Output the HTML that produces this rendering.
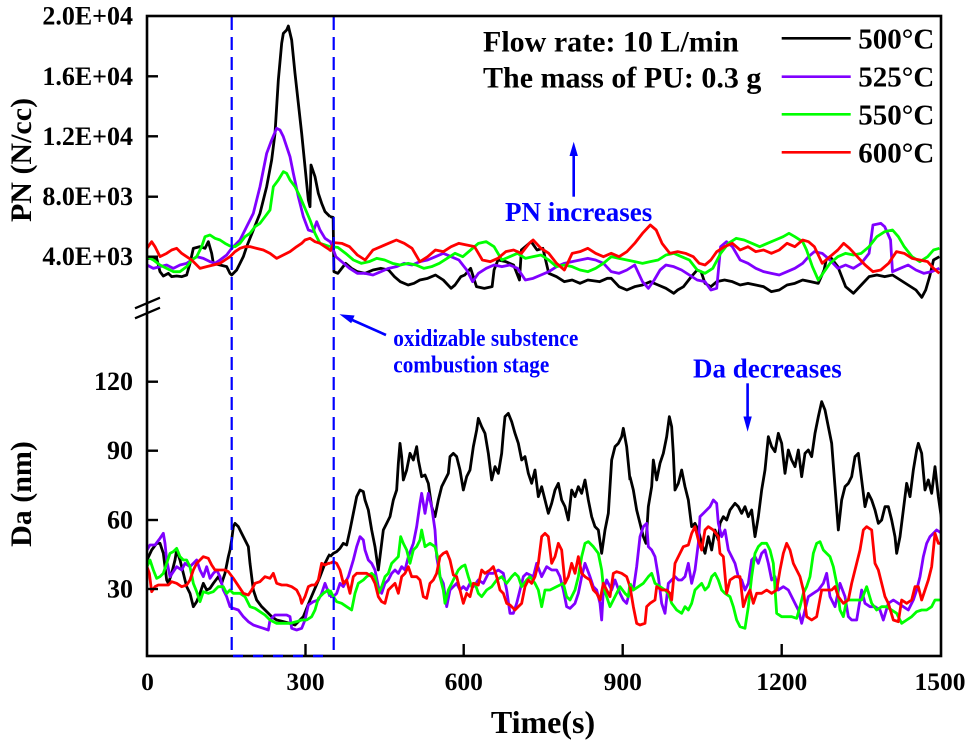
<!DOCTYPE html>
<html>
<head>
<meta charset="utf-8">
<style>
html,body{margin:0;padding:0;background:#fff;}
svg{display:block;}
.d polyline{fill:none;stroke-width:2.8;vector-effect:non-scaling-stroke;stroke-linejoin:round;}
.k{stroke:#000;} .p{stroke:#8000ff;} .g{stroke:#00ff00;} .r{stroke:#ff0000;}
text{font-family:"Liberation Serif","Times New Roman",serif;font-weight:bold;}
</style>
</head>
<body>
<svg width="972" height="745" viewBox="0 0 972 745" xmlns="http://www.w3.org/2000/svg">
<defs>
<clipPath id="cp"><rect x="147" y="16" width="794" height="640"/></clipPath>
</defs>

<g class="d" clip-path="url(#cp)">
<!-- Region A: PN, x 147-330 -->
<g transform="scale(0.333333)">
<polyline class="k" points="441,775 470,775 480,815 490,828 505,820 515,830 530,828 545,830 560,825 570,790 580,745 600,740 615,745 625,725 635,760 640,790 660,795 680,800 690,820 695,825 710,810 720,790 730,770 740,740 760,690 780,640 800,560 815,480 825,400 835,240 845,130 850,100 860,90 865,78 875,120 885,220 895,310 905,400 915,500 925,600 930,620 933,495 945,530 955,580 965,610 975,635 990,650"/>
<polyline class="p" points="441,795 460,805 480,800 500,795 520,805 540,795 560,790 575,780 590,770 610,775 630,785 645,790 660,780 680,765 695,745 710,730 720,720 740,680 760,640 780,560 800,460 815,420 830,385 840,390 850,410 860,440 870,470 880,520 895,590 910,650 925,690 940,695 950,665 960,690 975,715 990,725"/>
<polyline class="g" points="441,770 460,780 480,795 500,805 520,815 540,815 560,800 575,780 590,770 605,740 615,710 630,705 645,715 660,720 675,730 690,738 705,740 720,730 735,710 750,700 765,680 780,670 795,650 810,630 820,560 835,540 850,515 860,520 870,540 885,560 900,590 915,625 930,660 945,700 960,730 975,735 990,740"/>
<polyline class="r" points="441,745 455,725 465,740 480,770 500,760 515,750 530,745 545,760 560,770 575,780 590,795 600,805 620,800 640,795 660,790 675,780 690,770 705,755 720,745 735,740 750,740 770,745 790,750 810,760 830,775 850,765 870,755 890,740 905,730 915,720 930,715 945,725 960,730 975,740 990,750"/>
</g>
<!-- Region B: PN, x 330-940 -->
<g transform="translate(330,210) scale(0.390625,0.333333)">
<polyline class="k" points="0,20 8,22 10,185 20,190 30,175 40,160 55,175 70,185 90,190 110,180 130,175 150,180 165,200 180,215 200,225 215,220 230,210 250,205 270,195 290,210 310,235 320,225 335,200 345,195 360,175 375,230 395,235 415,230 420,180 430,150 450,155 470,165 485,210 490,120 500,110 515,95 530,120 545,115 560,190 580,200 600,215 620,210 640,220 660,210 690,215 710,205 720,205 740,230 760,240 780,230 800,225 820,215 840,225 860,235 880,250 890,240 905,230 925,200 940,180 950,185 960,220 975,230 990,215 1010,210 1030,215 1050,225 1070,220 1090,225 1110,230 1130,245 1150,240 1170,225 1190,220 1210,210 1230,215 1250,220 1265,180 1270,150 1280,140 1300,170 1320,230 1340,250 1360,225 1380,200 1400,195 1420,200 1440,195 1460,210 1480,225 1500,240 1515,262 1525,240 1535,200 1545,150 1560,140"/>
<polyline class="p" points="0,92 15,140 30,155 50,175 70,190 90,190 110,195 130,185 150,175 170,170 190,160 210,165 230,155 250,150 270,140 290,130 310,140 330,150 350,180 365,215 380,190 400,175 420,165 440,170 460,165 480,175 500,210 520,205 540,195 560,185 580,170 600,160 620,155 640,150 660,145 680,150 700,160 720,185 740,190 760,180 780,165 800,215 815,235 830,210 845,180 860,165 880,170 900,180 920,195 940,210 960,215 975,240 990,235 1000,110 1015,95 1030,110 1050,150 1070,160 1090,175 1110,185 1130,190 1150,195 1170,185 1190,175 1210,160 1225,140 1240,125 1260,130 1280,150 1300,175 1320,165 1340,175 1360,160 1380,130 1390,45 1410,40 1420,50 1435,90 1440,185 1460,175 1480,165 1500,180 1520,190 1540,185 1560,175"/>
<polyline class="g" points="0,110 20,112 40,130 60,150 80,160 100,155 120,145 140,150 160,160 180,165 200,160 220,165 240,175 260,170 280,160 300,145 320,130 340,140 360,120 380,100 400,95 420,110 440,150 460,140 480,130 500,145 520,140 540,135 560,150 580,170 600,165 620,170 640,180 660,185 680,175 700,160 720,140 740,145 760,150 780,155 800,160 820,155 840,150 860,135 880,130 900,140 920,150 940,180 960,190 980,175 1000,130 1020,100 1040,85 1060,90 1080,100 1100,110 1120,100 1140,90 1160,80 1175,70 1190,80 1210,95 1220,120 1235,170 1250,210 1265,185 1280,160 1300,140 1320,130 1340,135 1360,130 1380,110 1400,80 1420,65 1440,60 1455,80 1470,110 1490,140 1510,155 1530,140 1545,120 1560,115"/>
<polyline class="r" points="0,125 10,98 30,100 50,110 70,135 90,150 110,120 130,110 150,100 170,90 190,100 210,115 230,155 250,140 270,120 290,125 310,110 330,100 350,105 370,110 390,150 410,155 430,145 450,125 470,120 490,130 510,100 520,90 540,115 560,130 580,160 600,180 620,130 640,125 660,115 680,130 700,140 720,130 740,140 760,125 780,100 800,70 820,45 835,60 850,100 870,130 890,125 910,130 930,140 945,160 960,165 975,150 990,125 1010,110 1030,100 1050,120 1070,110 1090,125 1110,120 1130,130 1150,120 1170,100 1190,110 1210,90 1225,95 1240,110 1260,160 1280,140 1300,120 1315,100 1330,115 1350,140 1370,165 1390,185 1410,180 1430,160 1450,125 1470,130 1490,145 1510,150 1530,155 1545,175 1560,190"/>
</g>
<!-- Region C: Da, x 147-330 -->
<g transform="translate(0,330) scale(0.333333)">
<polyline class="k" points="441,690 455,660 470,640 480,640 490,670 500,750 505,760 515,730 525,690 530,660 540,690 550,730 560,770 570,790 580,830 590,815 600,790 610,760 620,780 630,775 640,760 655,740 665,760 675,730 685,680 690,660 695,630 700,590 705,580 715,590 725,610 735,630 745,650 750,700 760,780 770,810 785,830 800,845 815,860 830,870 850,875 870,880 885,885 900,870 910,860 920,835 930,810 945,775 960,740 975,700 985,680 990,672"/>
<polyline class="p" points="441,660 450,645 465,645 480,625 490,610 495,640 500,690 510,740 520,725 530,710 545,720 555,700 570,710 580,700 590,690 600,720 610,740 620,710 630,745 640,730 650,720 660,740 670,780 680,800 690,830 700,835 715,840 730,860 745,875 760,885 775,890 790,895 805,900 810,870 825,855 840,855 860,855 870,860 875,895 890,900 905,895 915,870 925,825 940,815 955,810 965,790 975,760 990,800"/>
<polyline class="g" points="441,710 450,690 460,720 470,745 480,740 490,730 500,700 510,670 520,665 530,655 540,680 550,690 560,690 570,710 580,760 590,785 600,815 610,785 625,790 640,785 655,770 670,770 680,790 690,780 700,790 710,790 720,790 735,800 750,830 765,835 780,845 795,855 810,870 830,880 850,880 870,880 890,875 905,870 920,870 935,860 945,840 955,805 970,790 985,780 990,795"/>
<polyline class="r" points="441,710 448,730 455,785 465,770 475,765 490,765 505,765 515,755 530,760 545,770 560,765 570,750 580,720 590,700 600,690 610,680 625,685 635,705 645,720 660,720 675,720 685,725 700,745 710,760 720,775 730,790 745,795 755,780 765,760 780,755 795,740 810,745 820,730 830,760 845,765 860,765 875,770 890,780 900,800 905,820 915,800 925,770 935,765 945,765 955,750 965,700 975,705 985,700 990,700"/>
</g>
<!-- Region D: Da, x 330-630 -->
<g transform="translate(330,390) scale(0.333333)">
<polyline class="k" points="0,500 10,490 20,485 30,475 40,460 50,465 60,420 70,370 80,320 90,300 100,305 105,330 115,360 125,420 135,470 145,540 150,500 160,420 170,400 180,380 190,330 200,300 205,220 210,160 215,200 220,270 230,240 240,190 250,210 260,170 265,210 275,260 285,255 295,280 305,350 315,380 325,330 335,290 345,270 355,250 360,200 370,190 380,200 390,240 400,300 410,260 420,240 430,170 440,120 445,85 455,110 465,130 475,190 485,270 495,230 505,250 515,190 520,130 525,80 535,70 545,95 555,130 565,160 575,210 585,200 595,250 605,280 615,240 625,320 635,290 645,330 655,370 665,340 675,300 685,280 695,330 705,350 715,390 725,300 735,320 745,290 755,310 765,270 775,330 785,380 795,410 805,420 815,490 825,420 835,370 845,210 855,170 865,160 875,140 880,115 890,170 900,270"/>
<polyline class="p" points="0,620 10,620 20,610 30,580 40,590 55,560 70,510 80,470 90,440 100,450 105,480 115,510 125,520 135,540 145,590 155,610 165,580 175,570 185,550 195,540 205,550 215,530 225,540 235,500 250,460 260,410 270,340 275,310 285,370 295,310 305,350 315,420 320,500 330,560 340,580 350,650 360,600 370,590 380,580 390,600 400,590 410,600 420,580 430,590 445,570 460,580 475,550 490,550 505,540 520,550 530,600 540,670 550,670 560,640 570,600 580,560 590,550 600,555 610,560 620,520 635,560 650,530 665,540 680,540 690,560 700,600 710,650 720,655 735,640 745,610 755,560 765,520 780,560 790,590 800,600 810,640 815,690 820,600 830,570 845,600 855,570 870,610 880,630 890,640 900,600"/>
<polyline class="g" points="0,600 10,620 20,635 35,640 50,650 65,660 75,610 85,580 100,570 110,560 125,550 135,560 145,610 155,590 165,560 175,550 185,520 195,510 205,500 212,440 220,460 230,480 240,520 250,480 260,470 270,450 275,420 285,470 300,460 315,470 325,510 330,560 340,600 345,640 355,600 365,580 375,560 385,540 395,530 405,525 415,560 425,590 435,580 445,610 455,620 470,600 485,590 500,570 515,560 530,580 545,560 555,550 565,560 575,590 590,570 600,560 615,580 625,600 635,650 645,600 660,600 680,590 700,580 710,620 720,630 735,600 745,560 755,500 765,460 775,455 790,470 805,490 815,540 820,590 830,620 840,650 855,620 870,590 885,610 895,620 900,580"/>
<polyline class="r" points="0,520 10,515 20,520 30,540 40,580 50,570 60,610 70,560 80,550 95,550 110,550 125,560 135,580 145,620 155,635 165,640 175,600 185,590 195,580 205,610 215,560 225,550 235,530 245,560 260,560 270,570 280,620 290,625 300,580 310,570 320,550 330,500 340,490 350,485 360,510 370,555 380,560 390,600 400,640 410,610 420,620 430,580 445,585 455,540 465,550 480,540 490,530 500,560 510,600 520,610 530,640 540,645 555,660 565,650 575,640 585,590 595,570 605,580 615,560 625,520 635,440 645,430 655,440 665,520 675,500 685,460 695,480 705,580 715,560 725,520 735,550 745,500 755,550 765,560 780,570 790,600 800,610 810,630 820,580 830,600 840,620 850,550 860,545 875,550 890,560 900,590"/>
</g>
<!-- Region E: Da, x 630-941 -->
<g transform="translate(630,390) scale(0.333333)">
<polyline class="k" points="0,260 10,300 20,360 30,400 40,440 48,460 55,350 65,290 70,210 80,270 90,220 100,190 110,140 118,80 125,110 130,190 135,300 145,280 155,240 165,290 175,330 185,410 195,400 205,420 215,460 225,490 235,440 245,480 255,420 265,450 270,400 280,380 290,390 300,360 315,340 325,350 335,370 345,350 355,380 365,360 375,440 385,380 395,300 405,240 415,140 425,170 435,185 445,130 455,160 465,250 475,180 485,210 495,230 505,180 515,260 525,190 535,180 545,200 555,130 565,80 575,35 585,60 595,110 605,160 615,290 625,420 635,330 645,290 655,280 665,260 675,200 685,190 695,270 705,350 715,310 725,330 735,360 745,400 755,390 765,350 775,350 785,390 795,440 800,490 810,440 820,360 830,280 840,320 850,240 860,180 865,160 875,190 885,300 895,270 905,310 915,230 925,320 935,390"/>
<polyline class="p" points="0,600 10,600 20,530 30,440 40,410 50,400 55,470 65,480 75,500 85,560 95,640 105,670 115,580 125,570 135,560 145,570 155,570 165,560 175,520 185,580 195,540 205,460 210,380 220,370 230,360 240,350 250,330 260,340 265,400 275,440 285,420 295,480 305,500 315,520 325,560 335,570 345,600 355,580 365,510 375,500 385,520 395,490 405,480 415,520 425,570 435,560 445,600 460,590 475,600 490,630 505,660 515,700 525,660 535,620 550,610 565,600 580,580 590,550 600,620 615,650 630,580 645,620 655,680 665,690 680,690 695,600 705,640 720,650 735,650 750,660 760,690 775,640 790,630 805,640 820,650 835,660 850,630 860,600 870,560 880,500 890,460 900,440 910,430 920,420 935,430"/>
<polyline class="g" points="0,580 10,600 25,590 40,580 55,560 65,550 75,580 90,590 105,600 115,610 125,640 140,660 155,670 165,650 175,660 185,640 195,600 205,590 215,580 225,600 235,590 245,560 255,550 265,570 275,600 285,610 300,620 310,650 320,690 330,710 345,715 355,650 365,560 375,490 385,470 395,460 410,460 420,480 430,520 440,670 455,680 470,680 485,680 500,685 510,650 520,610 530,590 540,560 550,490 560,460 570,455 580,480 590,490 600,500 610,530 620,580 630,660 640,680 650,630 660,630 680,630 695,630 710,590 725,640 740,660 755,650 770,650 785,660 800,670 815,700 830,690 845,680 860,665 875,660 890,660 905,650 915,630 935,630"/>
<polyline class="r" points="0,590 10,650 20,700 30,705 45,700 50,650 60,640 75,630 80,590 95,600 110,600 120,610 125,630 135,520 145,500 160,470 175,465 185,430 195,410 205,450 215,480 225,420 235,410 250,420 265,440 270,490 280,500 290,610 300,570 315,560 330,560 340,650 350,620 360,600 370,640 380,610 395,610 410,600 425,610 440,600 450,540 460,490 470,460 480,480 490,520 500,540 510,560 520,600 530,680 545,690 560,680 575,600 590,600 605,600 615,590 625,620 640,640 655,630 665,580 680,520 690,480 700,420 710,410 725,420 735,520 745,540 755,580 765,620 775,640 790,690 805,695 815,630 830,640 845,630 855,590 865,590 875,630 885,600 895,570 905,530 915,430 925,460 935,460"/>
</g>
</g>

<!-- dashed blue stage lines -->
<g stroke="#0000ff" stroke-width="2.2" fill="none" stroke-dasharray="13,7">
<line x1="231.7" y1="17" x2="231.7" y2="656"/>
<line x1="333.7" y1="17" x2="333.7" y2="656"/>
</g>

<!-- frame -->
<rect x="147" y="16" width="794" height="640" fill="none" stroke="#000" stroke-width="2.6"/>
<line x1="233" y1="656" x2="333" y2="656" stroke="#0000ff" stroke-width="2.6" stroke-dasharray="10,10"/>

<!-- ticks -->
<g stroke="#000" stroke-width="2.4">
<line x1="147" y1="76.3" x2="158" y2="76.3"/>
<line x1="147" y1="136.3" x2="158" y2="136.3"/>
<line x1="147" y1="196.7" x2="158" y2="196.7"/>
<line x1="147" y1="256.7" x2="158" y2="256.7"/>
<line x1="147" y1="381.7" x2="158" y2="381.7"/>
<line x1="147" y1="450.7" x2="158" y2="450.7"/>
<line x1="147" y1="520" x2="158" y2="520"/>
<line x1="147" y1="589" x2="158" y2="589"/>
<line x1="305.5" y1="656" x2="305.5" y2="644"/>
<line x1="463.7" y1="656" x2="463.7" y2="644"/>
<line x1="622.7" y1="656" x2="622.7" y2="644"/>
<line x1="781.7" y1="656" x2="781.7" y2="644"/>
</g>

<!-- axis break -->
<g stroke="#000" stroke-width="2.2">
<line x1="135" y1="308.3" x2="160" y2="297.7"/>
<line x1="135" y1="318.3" x2="160" y2="307.7"/>
</g>

<!-- tick labels -->
<g font-size="26" text-anchor="end" fill="#000">
<text x="133" y="24.5">2.0E+04</text>
<text x="133" y="84.8">1.6E+04</text>
<text x="133" y="144.8">1.2E+04</text>
<text x="133" y="205.2">8.0E+03</text>
<text x="133" y="265.2">4.0E+03</text>
<text x="133" y="390.2">120</text>
<text x="133" y="459.2">90</text>
<text x="133" y="528.5">60</text>
<text x="133" y="597.5">30</text>
</g>
<g font-size="25.5" text-anchor="middle" fill="#000">
<text x="147.5" y="690">0</text>
<text x="305.5" y="690">300</text>
<text x="463.7" y="690">600</text>
<text x="622.7" y="690">900</text>
<text x="781.7" y="690">1200</text>
<text x="940" y="690">1500</text>
</g>

<!-- axis titles -->
<text x="543" y="733" font-size="32" text-anchor="middle">Time(s)</text>
<text transform="translate(31,160) rotate(-90)" font-size="30" text-anchor="middle">PN (N/cc)</text>
<text transform="translate(31,494) rotate(-90)" font-size="30" text-anchor="middle">Da (nm)</text>

<!-- info text -->
<text x="483" y="51.7" font-size="30">Flow rate: 10 L/min</text>
<text x="483" y="87.3" font-size="30">The mass of PU: 0.3 g</text>

<!-- legend -->
<g stroke-width="2.6">
<line x1="781.7" y1="38.3" x2="850.7" y2="38.3" stroke="#000"/>
<line x1="781.7" y1="76.7" x2="850.7" y2="76.7" stroke="#8000ff"/>
<line x1="781.7" y1="114.3" x2="850.7" y2="114.3" stroke="#00ff00"/>
<line x1="781.7" y1="152.3" x2="850.7" y2="152.3" stroke="#ff0000"/>
</g>
<g font-size="29">
<text x="858.3" y="48.3">500°C</text>
<text x="858.3" y="86.7">525°C</text>
<text x="858.3" y="124.3">550°C</text>
<text x="858.3" y="162.3">600°C</text>
</g>

<!-- annotations -->
<g fill="#0000ff">
<text x="505" y="221" font-size="27">PN increases</text>
<text x="693" y="377.3" font-size="27">Da decreases</text>
<text x="393.3" y="346" font-size="24" textLength="185" lengthAdjust="spacingAndGlyphs">oxidizable substence</text>
<text x="393.3" y="372.7" font-size="24" textLength="156" lengthAdjust="spacingAndGlyphs">combustion stage</text>
</g>
<g stroke="#0000ff" stroke-width="2.6" fill="#0000ff">
<line x1="573.7" y1="196.7" x2="573.7" y2="152"/>
<polygon points="573.7,141.7 569.5,156 577.9,156" stroke="none"/>
<line x1="747.6" y1="383.3" x2="747.6" y2="420"/>
<polygon points="747.6,431.7 743.4,416.5 751.8,416.5" stroke="none"/>
<line x1="386" y1="335" x2="350" y2="319"/>
<polygon points="339.5,314.3 354.6,315.5 351.2,323.3" stroke="none"/>
</g>
</svg>
</body>
</html>
